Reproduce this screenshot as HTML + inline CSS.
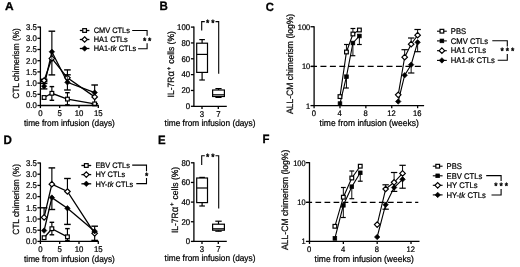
<!DOCTYPE html>
<html><head><meta charset="utf-8"><title>figure</title>
<style>
html,body{margin:0;padding:0;background:#fff;}
svg{display:block;filter:blur(0.4px);}
svg text{font-family:"Liberation Sans",Arial,Helvetica,sans-serif;fill:#000;stroke:#000;stroke-width:0.22px;text-rendering:geometricPrecision;}
</style></head><body>
<svg width="520" height="267" viewBox="0 0 520 267">
<rect width="520" height="267" fill="#fff"/>
<text transform="translate(5.0,10.0) scale(1.05,1)" font-size="11.4" font-weight="bold" style="stroke-width:0.3px">A</text>
<text transform="translate(159.5,9.8) scale(0.95,1)" font-size="12.2" font-weight="bold" style="stroke-width:0.3px">B</text>
<text transform="translate(265.7,10.7) scale(0.95,1)" font-size="11.9" font-weight="bold" style="stroke-width:0.3px">C</text>
<text transform="translate(3.4,143.6) scale(0.95,1)" font-size="12.2" font-weight="bold" style="stroke-width:0.3px">D</text>
<text transform="translate(157.9,144.1) scale(0.95,1)" font-size="12" font-weight="bold" style="stroke-width:0.3px">E</text>
<text transform="translate(262.5,143.0) scale(0.95,1)" font-size="12" font-weight="bold" style="stroke-width:0.3px">F</text>
<line x1="51.87" y1="93.30" x2="51.87" y2="86.60" stroke="#000" stroke-width="1.15" />
<line x1="49.57" y1="86.60" x2="54.17" y2="86.60" stroke="#000" stroke-width="1.40" />
<line x1="51.87" y1="93.30" x2="51.87" y2="100.30" stroke="#000" stroke-width="1.15" />
<line x1="49.57" y1="100.30" x2="54.17" y2="100.30" stroke="#000" stroke-width="1.40" />
<line x1="67.43" y1="99.10" x2="67.43" y2="92.70" stroke="#000" stroke-width="1.15" />
<line x1="65.13" y1="92.70" x2="69.73" y2="92.70" stroke="#000" stroke-width="1.40" />
<line x1="67.43" y1="99.10" x2="67.43" y2="104.80" stroke="#000" stroke-width="1.15" />
<line x1="65.13" y1="104.80" x2="69.73" y2="104.80" stroke="#000" stroke-width="1.40" />
<line x1="44.09" y1="80.50" x2="44.09" y2="79.30" stroke="#000" stroke-width="1.15" />
<line x1="40.79" y1="79.30" x2="47.39" y2="79.30" stroke="#000" stroke-width="1.40" />
<line x1="44.09" y1="80.50" x2="44.09" y2="81.60" stroke="#000" stroke-width="1.15" />
<line x1="40.79" y1="81.60" x2="47.39" y2="81.60" stroke="#000" stroke-width="1.40" />
<line x1="67.43" y1="77.80" x2="67.43" y2="69.90" stroke="#000" stroke-width="1.15" />
<line x1="64.13" y1="69.90" x2="70.73" y2="69.90" stroke="#000" stroke-width="1.40" />
<line x1="94.66" y1="96.90" x2="94.66" y2="103.80" stroke="#000" stroke-width="1.15" />
<line x1="91.36" y1="103.80" x2="97.96" y2="103.80" stroke="#000" stroke-width="1.40" />
<line x1="44.09" y1="86.20" x2="44.09" y2="83.40" stroke="#000" stroke-width="1.15" />
<line x1="40.79" y1="83.40" x2="47.39" y2="83.40" stroke="#000" stroke-width="1.40" />
<line x1="44.09" y1="86.20" x2="44.09" y2="88.90" stroke="#000" stroke-width="1.15" />
<line x1="40.79" y1="88.90" x2="47.39" y2="88.90" stroke="#000" stroke-width="1.40" />
<line x1="51.87" y1="51.80" x2="51.87" y2="31.20" stroke="#000" stroke-width="1.15" />
<line x1="48.57" y1="31.20" x2="55.17" y2="31.20" stroke="#000" stroke-width="1.40" />
<line x1="51.87" y1="51.80" x2="51.87" y2="74.90" stroke="#000" stroke-width="1.15" />
<line x1="48.57" y1="74.90" x2="55.17" y2="74.90" stroke="#000" stroke-width="1.40" />
<line x1="67.43" y1="82.30" x2="67.43" y2="74.80" stroke="#000" stroke-width="1.15" />
<line x1="64.13" y1="74.80" x2="70.73" y2="74.80" stroke="#000" stroke-width="1.40" />
<line x1="67.43" y1="82.30" x2="67.43" y2="90.00" stroke="#000" stroke-width="1.15" />
<line x1="64.13" y1="90.00" x2="70.73" y2="90.00" stroke="#000" stroke-width="1.40" />
<line x1="94.66" y1="92.60" x2="94.66" y2="85.00" stroke="#000" stroke-width="1.15" />
<line x1="91.36" y1="85.00" x2="97.96" y2="85.00" stroke="#000" stroke-width="1.40" />
<polyline fill="none" stroke="#000" stroke-width="1.3" points="44.09,97.50 51.87,93.30 67.43,99.10 94.66,103.90"/>
<polyline fill="none" stroke="#000" stroke-width="1.3" points="44.09,80.50 51.87,58.40 67.43,77.80 94.66,96.90"/>
<polyline fill="none" stroke="#000" stroke-width="1.3" points="44.09,86.20 51.87,51.80 67.43,82.30 94.66,92.60"/>
<rect x="42.24" y="95.65" width="3.7" height="3.7" fill="#fff" stroke="#000" stroke-width="1.2"/>
<rect x="50.02" y="91.45" width="3.7" height="3.7" fill="#fff" stroke="#000" stroke-width="1.2"/>
<rect x="65.58" y="97.25" width="3.7" height="3.7" fill="#fff" stroke="#000" stroke-width="1.2"/>
<rect x="92.81" y="102.05" width="3.7" height="3.7" fill="#fff" stroke="#000" stroke-width="1.2"/>
<polygon points="44.09,77.75 46.84,80.50 44.09,83.25 41.34,80.50" fill="#fff" stroke="#000" stroke-width="1.2"/>
<polygon points="51.87,55.65 54.62,58.40 51.87,61.15 49.12,58.40" fill="#fff" stroke="#000" stroke-width="1.2"/>
<polygon points="67.43,75.05 70.18,77.80 67.43,80.55 64.68,77.80" fill="#fff" stroke="#000" stroke-width="1.2"/>
<polygon points="94.66,94.15 97.41,96.90 94.66,99.65 91.91,96.90" fill="#fff" stroke="#000" stroke-width="1.2"/>
<polygon points="44.09,83.45 46.84,86.20 44.09,88.95 41.34,86.20" fill="#000" stroke="#000" stroke-width="0.6"/>
<polygon points="51.87,49.05 54.62,51.80 51.87,54.55 49.12,51.80" fill="#000" stroke="#000" stroke-width="0.6"/>
<polygon points="67.43,79.55 70.18,82.30 67.43,85.05 64.68,82.30" fill="#000" stroke="#000" stroke-width="0.6"/>
<polygon points="94.66,89.85 97.41,92.60 94.66,95.35 91.91,92.60" fill="#000" stroke="#000" stroke-width="0.6"/>
<line x1="51.87" y1="55.50" x2="51.87" y2="61.50" stroke="#000" stroke-width="0.80" />
<line x1="67.43" y1="75.00" x2="67.43" y2="80.00" stroke="#000" stroke-width="0.70" />
<line x1="40.40" y1="26.60" x2="40.40" y2="106.00" stroke="#000" stroke-width="1.30" />
<line x1="39.90" y1="105.50" x2="98.80" y2="105.50" stroke="#000" stroke-width="1.30" />
<line x1="37.40" y1="105.50" x2="40.40" y2="105.50" stroke="#000" stroke-width="1.30" />
<text transform="translate(36.80,108.30) scale(1,1.07)" font-size="7.8" text-anchor="end" >0.0</text>
<line x1="37.40" y1="94.30" x2="40.40" y2="94.30" stroke="#000" stroke-width="1.30" />
<text transform="translate(36.80,97.10) scale(1,1.07)" font-size="7.8" text-anchor="end" >0.5</text>
<line x1="37.40" y1="83.10" x2="40.40" y2="83.10" stroke="#000" stroke-width="1.30" />
<text transform="translate(36.80,85.90) scale(1,1.07)" font-size="7.8" text-anchor="end" >1.0</text>
<line x1="37.40" y1="71.90" x2="40.40" y2="71.90" stroke="#000" stroke-width="1.30" />
<text transform="translate(36.80,74.70) scale(1,1.07)" font-size="7.8" text-anchor="end" >1.5</text>
<line x1="37.40" y1="60.70" x2="40.40" y2="60.70" stroke="#000" stroke-width="1.30" />
<text transform="translate(36.80,63.50) scale(1,1.07)" font-size="7.8" text-anchor="end" >2.0</text>
<line x1="37.40" y1="49.50" x2="40.40" y2="49.50" stroke="#000" stroke-width="1.30" />
<text transform="translate(36.80,52.30) scale(1,1.07)" font-size="7.8" text-anchor="end" >2.5</text>
<line x1="37.40" y1="38.30" x2="40.40" y2="38.30" stroke="#000" stroke-width="1.30" />
<text transform="translate(36.80,41.10) scale(1,1.07)" font-size="7.8" text-anchor="end" >3.0</text>
<line x1="37.40" y1="27.10" x2="40.40" y2="27.10" stroke="#000" stroke-width="1.30" />
<text transform="translate(36.80,29.90) scale(1,1.07)" font-size="7.8" text-anchor="end" >3.5</text>
<line x1="40.40" y1="105.50" x2="40.40" y2="108.10" stroke="#000" stroke-width="1.30" />
<text transform="translate(40.40,115.80) scale(1,1.07)" font-size="7.8" text-anchor="middle" >0</text>
<line x1="59.70" y1="105.50" x2="59.70" y2="108.10" stroke="#000" stroke-width="1.30" />
<text transform="translate(59.70,115.80) scale(1,1.07)" font-size="7.8" text-anchor="middle" >5</text>
<line x1="79.00" y1="105.50" x2="79.00" y2="108.10" stroke="#000" stroke-width="1.30" />
<text transform="translate(79.00,115.80) scale(1,1.07)" font-size="7.8" text-anchor="middle" >10</text>
<line x1="98.30" y1="105.50" x2="98.30" y2="108.10" stroke="#000" stroke-width="1.30" />
<text transform="translate(98.30,115.80) scale(1,1.07)" font-size="7.8" text-anchor="middle" >15</text>
<text transform="translate(24.00,125.80) scale(1,1.07)" font-size="8.3" text-anchor="start" >time from infusion (days)</text>
<text transform="translate(19.00,63.50) rotate(-90) scale(1,1.07)" font-size="8.3" text-anchor="middle">CTL chimerism (%)</text>
<line x1="79.80" y1="30.50" x2="89.40" y2="30.50" stroke="#000" stroke-width="1.30" />
<rect x="82.75" y="28.65" width="3.7" height="3.7" fill="#fff" stroke="#000" stroke-width="1.2"/>
<text transform="translate(93.70,33.20) scale(1,1.07)" font-size="7.4" text-anchor="start" >CMV CTLs</text>
<line x1="79.80" y1="39.50" x2="89.40" y2="39.50" stroke="#000" stroke-width="1.30" />
<polygon points="84.60,36.75 87.35,39.50 84.60,42.25 81.85,39.50" fill="#fff" stroke="#000" stroke-width="1.2"/>
<text transform="translate(93.70,42.20) scale(1,1.07)" font-size="7.4" text-anchor="start" >HA1 CTLs</text>
<line x1="79.80" y1="48.50" x2="89.40" y2="48.50" stroke="#000" stroke-width="1.30" />
<polygon points="84.60,45.75 87.35,48.50 84.60,51.25 81.85,48.50" fill="#000" stroke="#000" stroke-width="0.6"/>
<text transform="translate(93.70,51.20) scale(1,1.07)" font-size="7.4" text-anchor="start" >HA1-<tspan font-style="italic" letter-spacing="0.15">tk</tspan> CTLs</text>
<polyline fill="none" stroke="#000" stroke-width="1.1" points="132.20,30.50 147.10,30.50 147.10,35.80"/>
<polyline fill="none" stroke="#000" stroke-width="1.1" points="138.10,48.80 147.10,48.80 147.10,43.30"/>
<text transform="translate(144.60,44.39) scale(1,1.07)" font-size="8.5" text-anchor="middle" style="stroke-width:0.4px">*</text>
<text transform="translate(149.60,44.39) scale(1,1.07)" font-size="8.5" text-anchor="middle" style="stroke-width:0.4px">*</text>
<line x1="51.87" y1="228.70" x2="51.87" y2="222.30" stroke="#000" stroke-width="1.15" />
<line x1="49.57" y1="222.30" x2="54.17" y2="222.30" stroke="#000" stroke-width="1.40" />
<line x1="51.87" y1="228.70" x2="51.87" y2="234.80" stroke="#000" stroke-width="1.15" />
<line x1="49.57" y1="234.80" x2="54.17" y2="234.80" stroke="#000" stroke-width="1.40" />
<line x1="67.43" y1="236.80" x2="67.43" y2="228.60" stroke="#000" stroke-width="1.15" />
<line x1="65.13" y1="228.60" x2="69.73" y2="228.60" stroke="#000" stroke-width="1.40" />
<line x1="67.43" y1="236.80" x2="67.43" y2="240.50" stroke="#000" stroke-width="1.15" />
<line x1="65.13" y1="240.50" x2="69.73" y2="240.50" stroke="#000" stroke-width="1.40" />
<line x1="44.09" y1="217.40" x2="44.09" y2="207.80" stroke="#000" stroke-width="1.15" />
<line x1="40.79" y1="207.80" x2="47.39" y2="207.80" stroke="#000" stroke-width="1.40" />
<line x1="51.87" y1="184.20" x2="51.87" y2="167.90" stroke="#000" stroke-width="1.15" />
<line x1="48.57" y1="167.90" x2="55.17" y2="167.90" stroke="#000" stroke-width="1.40" />
<line x1="67.43" y1="191.50" x2="67.43" y2="178.50" stroke="#000" stroke-width="1.15" />
<line x1="64.13" y1="178.50" x2="70.73" y2="178.50" stroke="#000" stroke-width="1.40" />
<line x1="94.66" y1="233.30" x2="94.66" y2="240.40" stroke="#000" stroke-width="1.15" />
<line x1="91.36" y1="240.40" x2="97.96" y2="240.40" stroke="#000" stroke-width="1.40" />
<line x1="51.87" y1="197.60" x2="51.87" y2="209.50" stroke="#000" stroke-width="1.15" />
<line x1="48.57" y1="209.50" x2="55.17" y2="209.50" stroke="#000" stroke-width="1.40" />
<line x1="67.43" y1="208.30" x2="67.43" y2="224.40" stroke="#000" stroke-width="1.15" />
<line x1="64.13" y1="224.40" x2="70.73" y2="224.40" stroke="#000" stroke-width="1.40" />
<line x1="94.66" y1="231.20" x2="94.66" y2="226.20" stroke="#000" stroke-width="1.15" />
<line x1="91.36" y1="226.20" x2="97.96" y2="226.20" stroke="#000" stroke-width="1.40" />
<polyline fill="none" stroke="#000" stroke-width="1.3" points="44.09,237.70 51.87,228.70 67.43,236.80"/>
<polyline fill="none" stroke="#000" stroke-width="1.3" points="44.09,217.40 51.87,184.20 67.43,191.50 94.66,233.30"/>
<polyline fill="none" stroke="#000" stroke-width="1.3" points="44.09,230.60 51.87,197.60 67.43,208.30 94.66,231.20"/>
<rect x="42.24" y="235.85" width="3.7" height="3.7" fill="#fff" stroke="#000" stroke-width="1.2"/>
<rect x="50.02" y="226.85" width="3.7" height="3.7" fill="#fff" stroke="#000" stroke-width="1.2"/>
<rect x="65.58" y="234.95" width="3.7" height="3.7" fill="#fff" stroke="#000" stroke-width="1.2"/>
<polygon points="44.09,214.65 46.84,217.40 44.09,220.15 41.34,217.40" fill="#fff" stroke="#000" stroke-width="1.2"/>
<polygon points="51.87,181.45 54.62,184.20 51.87,186.95 49.12,184.20" fill="#fff" stroke="#000" stroke-width="1.2"/>
<polygon points="67.43,188.75 70.18,191.50 67.43,194.25 64.68,191.50" fill="#fff" stroke="#000" stroke-width="1.2"/>
<polygon points="94.66,230.55 97.41,233.30 94.66,236.05 91.91,233.30" fill="#fff" stroke="#000" stroke-width="1.2"/>
<polygon points="44.09,227.85 46.84,230.60 44.09,233.35 41.34,230.60" fill="#000" stroke="#000" stroke-width="0.6"/>
<polygon points="51.87,194.85 54.62,197.60 51.87,200.35 49.12,197.60" fill="#000" stroke="#000" stroke-width="0.6"/>
<polygon points="67.43,205.55 70.18,208.30 67.43,211.05 64.68,208.30" fill="#000" stroke="#000" stroke-width="0.6"/>
<polygon points="94.66,228.45 97.41,231.20 94.66,233.95 91.91,231.20" fill="#000" stroke="#000" stroke-width="0.6"/>
<line x1="40.40" y1="162.50" x2="40.40" y2="241.90" stroke="#000" stroke-width="1.30" />
<line x1="39.90" y1="241.40" x2="98.80" y2="241.40" stroke="#000" stroke-width="1.30" />
<line x1="37.40" y1="241.40" x2="40.40" y2="241.40" stroke="#000" stroke-width="1.30" />
<text transform="translate(36.80,244.20) scale(1,1.07)" font-size="7.8" text-anchor="end" >0.0</text>
<line x1="37.40" y1="230.20" x2="40.40" y2="230.20" stroke="#000" stroke-width="1.30" />
<text transform="translate(36.80,233.00) scale(1,1.07)" font-size="7.8" text-anchor="end" >0.5</text>
<line x1="37.40" y1="219.00" x2="40.40" y2="219.00" stroke="#000" stroke-width="1.30" />
<text transform="translate(36.80,221.80) scale(1,1.07)" font-size="7.8" text-anchor="end" >1.0</text>
<line x1="37.40" y1="207.80" x2="40.40" y2="207.80" stroke="#000" stroke-width="1.30" />
<text transform="translate(36.80,210.60) scale(1,1.07)" font-size="7.8" text-anchor="end" >1.5</text>
<line x1="37.40" y1="196.60" x2="40.40" y2="196.60" stroke="#000" stroke-width="1.30" />
<text transform="translate(36.80,199.40) scale(1,1.07)" font-size="7.8" text-anchor="end" >2.0</text>
<line x1="37.40" y1="185.40" x2="40.40" y2="185.40" stroke="#000" stroke-width="1.30" />
<text transform="translate(36.80,188.20) scale(1,1.07)" font-size="7.8" text-anchor="end" >2.5</text>
<line x1="37.40" y1="174.20" x2="40.40" y2="174.20" stroke="#000" stroke-width="1.30" />
<text transform="translate(36.80,177.00) scale(1,1.07)" font-size="7.8" text-anchor="end" >3.0</text>
<line x1="37.40" y1="163.00" x2="40.40" y2="163.00" stroke="#000" stroke-width="1.30" />
<text transform="translate(36.80,165.80) scale(1,1.07)" font-size="7.8" text-anchor="end" >3.5</text>
<line x1="40.40" y1="241.40" x2="40.40" y2="244.00" stroke="#000" stroke-width="1.30" />
<text transform="translate(40.40,251.70) scale(1,1.07)" font-size="7.8" text-anchor="middle" >0</text>
<line x1="59.70" y1="241.40" x2="59.70" y2="244.00" stroke="#000" stroke-width="1.30" />
<text transform="translate(59.70,251.70) scale(1,1.07)" font-size="7.8" text-anchor="middle" >5</text>
<line x1="79.00" y1="241.40" x2="79.00" y2="244.00" stroke="#000" stroke-width="1.30" />
<text transform="translate(79.00,251.70) scale(1,1.07)" font-size="7.8" text-anchor="middle" >10</text>
<line x1="98.30" y1="241.40" x2="98.30" y2="244.00" stroke="#000" stroke-width="1.30" />
<text transform="translate(98.30,251.70) scale(1,1.07)" font-size="7.8" text-anchor="middle" >15</text>
<text transform="translate(24.00,261.70) scale(1,1.07)" font-size="8.3" text-anchor="start" >time from infusion (days)</text>
<text transform="translate(19.00,199.40) rotate(-90) scale(1,1.07)" font-size="8.3" text-anchor="middle">CTL chimerism (%)</text>
<line x1="81.40" y1="165.50" x2="91.20" y2="165.50" stroke="#000" stroke-width="1.30" />
<rect x="84.45" y="163.65" width="3.7" height="3.7" fill="#fff" stroke="#000" stroke-width="1.2"/>
<text transform="translate(95.40,168.20) scale(1,1.07)" font-size="7.4" text-anchor="start" >EBV CTLs</text>
<line x1="81.40" y1="174.60" x2="91.20" y2="174.60" stroke="#000" stroke-width="1.30" />
<polygon points="86.30,171.85 89.05,174.60 86.30,177.35 83.55,174.60" fill="#fff" stroke="#000" stroke-width="1.2"/>
<text transform="translate(95.40,177.30) scale(1,1.07)" font-size="7.4" text-anchor="start" >HY CTLs</text>
<line x1="81.40" y1="183.80" x2="91.20" y2="183.80" stroke="#000" stroke-width="1.30" />
<polygon points="86.30,181.05 89.05,183.80 86.30,186.55 83.55,183.80" fill="#000" stroke="#000" stroke-width="0.6"/>
<text transform="translate(95.40,186.50) scale(1,1.07)" font-size="7.4" text-anchor="start" >HY-<tspan font-style="italic" letter-spacing="0.15">tk</tspan> CTLs</text>
<polyline fill="none" stroke="#000" stroke-width="1.1" points="132.20,165.10 146.50,165.10 146.50,171.20"/>
<polyline fill="none" stroke="#000" stroke-width="1.1" points="136.30,183.60 146.50,183.60 146.50,177.90"/>
<text transform="translate(146.60,178.89) scale(1,1.07)" font-size="8.5" text-anchor="middle" style="stroke-width:0.4px">*</text>
<line x1="193.90" y1="26.60" x2="193.90" y2="106.80" stroke="#000" stroke-width="1.30" />
<line x1="193.40" y1="106.30" x2="226.80" y2="106.30" stroke="#000" stroke-width="1.30" />
<line x1="190.90" y1="106.30" x2="193.90" y2="106.30" stroke="#000" stroke-width="1.30" />
<text transform="translate(190.10,109.10) scale(1,1.07)" font-size="7.8" text-anchor="end" >0</text>
<line x1="190.90" y1="90.46" x2="193.90" y2="90.46" stroke="#000" stroke-width="1.30" />
<text transform="translate(190.10,93.26) scale(1,1.07)" font-size="7.8" text-anchor="end" >20</text>
<line x1="190.90" y1="74.62" x2="193.90" y2="74.62" stroke="#000" stroke-width="1.30" />
<text transform="translate(190.10,77.42) scale(1,1.07)" font-size="7.8" text-anchor="end" >40</text>
<line x1="190.90" y1="58.78" x2="193.90" y2="58.78" stroke="#000" stroke-width="1.30" />
<text transform="translate(190.10,61.58) scale(1,1.07)" font-size="7.8" text-anchor="end" >60</text>
<line x1="190.90" y1="42.94" x2="193.90" y2="42.94" stroke="#000" stroke-width="1.30" />
<text transform="translate(190.10,45.74) scale(1,1.07)" font-size="7.8" text-anchor="end" >80</text>
<line x1="190.90" y1="27.10" x2="193.90" y2="27.10" stroke="#000" stroke-width="1.30" />
<text transform="translate(190.10,29.90) scale(1,1.07)" font-size="7.8" text-anchor="end" >100</text>
<line x1="202.00" y1="106.30" x2="202.00" y2="108.90" stroke="#000" stroke-width="1.30" />
<text transform="translate(202.00,116.60) scale(1,1.07)" font-size="7.8" text-anchor="middle" >3</text>
<line x1="218.30" y1="106.30" x2="218.30" y2="108.90" stroke="#000" stroke-width="1.30" />
<text transform="translate(218.30,116.60) scale(1,1.07)" font-size="7.8" text-anchor="middle" >7</text>
<text transform="translate(164.60,126.20) scale(1,1.07)" font-size="8.3" text-anchor="start" >time from infusion (days)</text>
<text transform="translate(174.20,64.30) rotate(-90) scale(1,1.07)" font-size="8.5" text-anchor="middle">IL-7R<tspan font-size="9.6">α</tspan><tspan font-size="6" dy="-3.4" dx="0.8">+</tspan><tspan dy="3.4" dx="0.6"> cells (%)</tspan></text>
<line x1="202.10" y1="39.60" x2="202.10" y2="43.20" stroke="#000" stroke-width="1.20" />
<line x1="202.10" y1="72.40" x2="202.10" y2="80.00" stroke="#000" stroke-width="1.20" />
<line x1="199.30" y1="39.60" x2="204.90" y2="39.60" stroke="#000" stroke-width="1.20" />
<line x1="199.30" y1="80.00" x2="204.90" y2="80.00" stroke="#000" stroke-width="1.20" />
<rect x="196.70" y="43.20" width="10.80" height="29.20" fill="#fff" stroke="#000" stroke-width="1.2"/>
<line x1="196.70" y1="54.40" x2="207.50" y2="54.40" stroke="#000" stroke-width="1.20" />
<line x1="218.50" y1="88.60" x2="218.50" y2="90.00" stroke="#000" stroke-width="1.20" />
<line x1="218.50" y1="96.50" x2="218.50" y2="97.40" stroke="#000" stroke-width="1.20" />
<line x1="215.40" y1="88.60" x2="221.60" y2="88.60" stroke="#000" stroke-width="1.20" />
<line x1="215.40" y1="97.40" x2="221.60" y2="97.40" stroke="#000" stroke-width="1.20" />
<rect x="212.60" y="90.00" width="11.80" height="6.50" fill="#fff" stroke="#000" stroke-width="1.2"/>
<line x1="212.60" y1="94.80" x2="224.40" y2="94.80" stroke="#000" stroke-width="1.20" />
<polyline fill="none" stroke="#000" stroke-width="1.1" points="201.70,30.40 201.70,21.60 204.80,21.60"/>
<polyline fill="none" stroke="#000" stroke-width="1.1" points="215.50,21.60 218.70,21.60 218.70,73.80"/>
<text transform="translate(207.60,26.29) scale(1,1.07)" font-size="8.5" text-anchor="middle" style="stroke-width:0.4px">*</text>
<text transform="translate(212.90,26.29) scale(1,1.07)" font-size="8.5" text-anchor="middle" style="stroke-width:0.4px">*</text>
<line x1="193.90" y1="162.30" x2="193.90" y2="241.90" stroke="#000" stroke-width="1.30" />
<line x1="193.40" y1="241.40" x2="226.80" y2="241.40" stroke="#000" stroke-width="1.30" />
<line x1="190.90" y1="241.40" x2="193.90" y2="241.40" stroke="#000" stroke-width="1.30" />
<text transform="translate(190.10,244.20) scale(1,1.07)" font-size="7.8" text-anchor="end" >0</text>
<line x1="190.90" y1="221.75" x2="193.90" y2="221.75" stroke="#000" stroke-width="1.30" />
<text transform="translate(190.10,224.55) scale(1,1.07)" font-size="7.8" text-anchor="end" >20</text>
<line x1="190.90" y1="202.10" x2="193.90" y2="202.10" stroke="#000" stroke-width="1.30" />
<text transform="translate(190.10,204.90) scale(1,1.07)" font-size="7.8" text-anchor="end" >40</text>
<line x1="190.90" y1="182.45" x2="193.90" y2="182.45" stroke="#000" stroke-width="1.30" />
<text transform="translate(190.10,185.25) scale(1,1.07)" font-size="7.8" text-anchor="end" >60</text>
<line x1="190.90" y1="162.80" x2="193.90" y2="162.80" stroke="#000" stroke-width="1.30" />
<text transform="translate(190.10,165.60) scale(1,1.07)" font-size="7.8" text-anchor="end" >80</text>
<line x1="202.00" y1="241.40" x2="202.00" y2="244.00" stroke="#000" stroke-width="1.30" />
<text transform="translate(202.00,251.70) scale(1,1.07)" font-size="7.8" text-anchor="middle" >3</text>
<line x1="218.30" y1="241.40" x2="218.30" y2="244.00" stroke="#000" stroke-width="1.30" />
<text transform="translate(218.30,251.70) scale(1,1.07)" font-size="7.8" text-anchor="middle" >7</text>
<text transform="translate(164.60,261.30) scale(1,1.07)" font-size="8.3" text-anchor="start" >time from infusion (days)</text>
<text transform="translate(177.70,200.00) rotate(-90) scale(1,1.07)" font-size="8.5" text-anchor="middle">IL-7R<tspan font-size="9.6">α</tspan><tspan font-size="6" dy="-3.4" dx="0.8">+</tspan><tspan dy="3.4" dx="0.6"> cells (%)</tspan></text>
<line x1="202.10" y1="177.40" x2="202.10" y2="178.00" stroke="#000" stroke-width="1.20" />
<line x1="202.10" y1="202.60" x2="202.10" y2="206.00" stroke="#000" stroke-width="1.20" />
<line x1="199.30" y1="177.40" x2="204.90" y2="177.40" stroke="#000" stroke-width="1.20" />
<line x1="199.30" y1="206.00" x2="204.90" y2="206.00" stroke="#000" stroke-width="1.20" />
<rect x="196.70" y="178.00" width="10.80" height="24.60" fill="#fff" stroke="#000" stroke-width="1.2"/>
<line x1="196.70" y1="188.00" x2="207.50" y2="188.00" stroke="#000" stroke-width="1.20" />
<line x1="218.50" y1="221.20" x2="218.50" y2="224.20" stroke="#000" stroke-width="1.20" />
<line x1="218.50" y1="230.20" x2="218.50" y2="231.20" stroke="#000" stroke-width="1.20" />
<line x1="215.30" y1="221.20" x2="221.70" y2="221.20" stroke="#000" stroke-width="1.20" />
<line x1="215.30" y1="231.20" x2="221.70" y2="231.20" stroke="#000" stroke-width="1.20" />
<rect x="212.60" y="224.20" width="11.80" height="6.00" fill="#fff" stroke="#000" stroke-width="1.2"/>
<line x1="212.60" y1="228.80" x2="224.40" y2="228.80" stroke="#000" stroke-width="1.20" />
<polyline fill="none" stroke="#000" stroke-width="1.1" points="201.70,164.90 201.70,155.70 204.80,155.70"/>
<polyline fill="none" stroke="#000" stroke-width="1.1" points="215.50,155.70 218.70,155.70 218.70,208.60"/>
<text transform="translate(207.60,160.39) scale(1,1.07)" font-size="8.5" text-anchor="middle" style="stroke-width:0.4px">*</text>
<text transform="translate(212.90,160.39) scale(1,1.07)" font-size="8.5" text-anchor="middle" style="stroke-width:0.4px">*</text>
<line x1="314.10" y1="26.25" x2="314.10" y2="106.10" stroke="#000" stroke-width="1.30" />
<line x1="313.60" y1="105.60" x2="424.10" y2="105.60" stroke="#000" stroke-width="1.30" />
<line x1="310.50" y1="105.60" x2="314.10" y2="105.60" stroke="#000" stroke-width="1.30" />
<text transform="translate(310.20,108.60) scale(1,1.07)" font-size="7.45" text-anchor="end" >1</text>
<line x1="310.50" y1="66.45" x2="314.10" y2="66.45" stroke="#000" stroke-width="1.30" />
<text transform="translate(310.20,69.45) scale(1,1.07)" font-size="7.45" text-anchor="end" >10</text>
<line x1="310.50" y1="26.75" x2="314.10" y2="26.75" stroke="#000" stroke-width="1.30" />
<text transform="translate(310.20,29.75) scale(1,1.07)" font-size="7.45" text-anchor="end" >100</text>
<line x1="314.10" y1="105.60" x2="314.10" y2="108.20" stroke="#000" stroke-width="1.30" />
<text transform="translate(313.80,116.00) scale(1,1.07)" font-size="7.6" text-anchor="middle" >0</text>
<line x1="339.98" y1="105.60" x2="339.98" y2="108.20" stroke="#000" stroke-width="1.30" />
<text transform="translate(339.68,116.00) scale(1,1.07)" font-size="7.6" text-anchor="middle" >4</text>
<line x1="365.86" y1="105.60" x2="365.86" y2="108.20" stroke="#000" stroke-width="1.30" />
<text transform="translate(365.56,116.00) scale(1,1.07)" font-size="7.6" text-anchor="middle" >8</text>
<line x1="391.74" y1="105.60" x2="391.74" y2="108.20" stroke="#000" stroke-width="1.30" />
<text transform="translate(391.44,116.00) scale(1,1.07)" font-size="7.6" text-anchor="middle" >12</text>
<line x1="417.62" y1="105.60" x2="417.62" y2="108.20" stroke="#000" stroke-width="1.30" />
<text transform="translate(417.32,116.00) scale(1,1.07)" font-size="7.6" text-anchor="middle" >16</text>
<line x1="311.00" y1="66.45" x2="421.30" y2="66.45" stroke="#000" stroke-width="1.30" stroke-dasharray="6.0 3.44"/>
<text transform="translate(319.60,125.70) scale(1,1.07)" font-size="8.5" text-anchor="start" >time from infusion (weeks)</text>
<text transform="translate(292.80,63.90) rotate(-90) scale(1,1.07)" font-size="8.6" text-anchor="middle">ALL-CM chimerism (log%)</text>
<line x1="346.45" y1="76.70" x2="346.45" y2="88.00" stroke="#000" stroke-width="0.95" />
<line x1="344.05" y1="88.00" x2="348.85" y2="88.00" stroke="#000" stroke-width="1.20" />
<line x1="352.92" y1="43.00" x2="352.92" y2="55.70" stroke="#000" stroke-width="0.95" />
<line x1="350.52" y1="55.70" x2="355.32" y2="55.70" stroke="#000" stroke-width="1.20" />
<line x1="359.39" y1="36.00" x2="359.39" y2="44.50" stroke="#000" stroke-width="0.95" />
<line x1="356.99" y1="44.50" x2="361.79" y2="44.50" stroke="#000" stroke-width="1.20" />
<polyline fill="none" stroke="#000" stroke-width="1.1" points="339.98,103.60 346.45,76.70 352.92,43.00 359.39,36.00"/>
<rect x="338.13" y="101.75" width="3.7" height="3.7" fill="#000" stroke="#000" stroke-width="0.7"/>
<rect x="344.60" y="74.85" width="3.7" height="3.7" fill="#000" stroke="#000" stroke-width="0.7"/>
<rect x="351.07" y="41.15" width="3.7" height="3.7" fill="#000" stroke="#000" stroke-width="0.7"/>
<rect x="357.54" y="34.15" width="3.7" height="3.7" fill="#000" stroke="#000" stroke-width="0.7"/>
<line x1="346.45" y1="52.00" x2="346.45" y2="44.50" stroke="#000" stroke-width="0.95" />
<line x1="344.05" y1="44.50" x2="348.85" y2="44.50" stroke="#000" stroke-width="1.20" />
<line x1="352.92" y1="34.00" x2="352.92" y2="28.50" stroke="#000" stroke-width="0.95" />
<line x1="350.52" y1="28.50" x2="355.32" y2="28.50" stroke="#000" stroke-width="1.20" />
<polyline fill="none" stroke="#000" stroke-width="1.1" points="339.98,96.60 346.45,52.00 352.92,34.00 359.39,30.00"/>
<rect x="338.13" y="94.75" width="3.7" height="3.7" fill="#fff" stroke="#000" stroke-width="1.2"/>
<rect x="344.60" y="50.15" width="3.7" height="3.7" fill="#fff" stroke="#000" stroke-width="1.2"/>
<rect x="351.07" y="32.15" width="3.7" height="3.7" fill="#fff" stroke="#000" stroke-width="1.2"/>
<rect x="357.54" y="28.15" width="3.7" height="3.7" fill="#fff" stroke="#000" stroke-width="1.2"/>
<line x1="411.15" y1="64.70" x2="411.15" y2="73.00" stroke="#000" stroke-width="0.95" />
<line x1="407.95" y1="73.00" x2="414.35" y2="73.00" stroke="#000" stroke-width="1.20" />
<line x1="417.62" y1="42.30" x2="417.62" y2="51.70" stroke="#000" stroke-width="0.95" />
<line x1="414.42" y1="51.70" x2="420.82" y2="51.70" stroke="#000" stroke-width="1.20" />
<polyline fill="none" stroke="#000" stroke-width="1.1" points="398.21,101.50 404.68,75.20 411.15,64.70 417.62,42.30"/>
<polygon points="398.21,98.75 400.96,101.50 398.21,104.25 395.46,101.50" fill="#000" stroke="#000" stroke-width="0.6"/>
<polygon points="404.68,72.45 407.43,75.20 404.68,77.95 401.93,75.20" fill="#000" stroke="#000" stroke-width="0.6"/>
<polygon points="411.15,61.95 413.90,64.70 411.15,67.45 408.40,64.70" fill="#000" stroke="#000" stroke-width="0.6"/>
<polygon points="417.62,39.55 420.37,42.30 417.62,45.05 414.87,42.30" fill="#000" stroke="#000" stroke-width="0.6"/>
<line x1="404.68" y1="57.20" x2="404.68" y2="49.70" stroke="#000" stroke-width="0.95" />
<line x1="401.48" y1="49.70" x2="407.88" y2="49.70" stroke="#000" stroke-width="1.20" />
<line x1="411.15" y1="44.20" x2="411.15" y2="38.00" stroke="#000" stroke-width="0.95" />
<line x1="407.95" y1="38.00" x2="414.35" y2="38.00" stroke="#000" stroke-width="1.20" />
<line x1="417.62" y1="35.20" x2="417.62" y2="29.50" stroke="#000" stroke-width="0.95" />
<line x1="414.42" y1="29.50" x2="420.82" y2="29.50" stroke="#000" stroke-width="1.20" />
<polyline fill="none" stroke="#000" stroke-width="1.1" points="398.21,94.80 404.68,57.20 411.15,44.20 417.62,35.20"/>
<polygon points="398.21,92.05 400.96,94.80 398.21,97.55 395.46,94.80" fill="#fff" stroke="#000" stroke-width="1.2"/>
<polygon points="404.68,54.45 407.43,57.20 404.68,59.95 401.93,57.20" fill="#fff" stroke="#000" stroke-width="1.2"/>
<polygon points="411.15,41.45 413.90,44.20 411.15,46.95 408.40,44.20" fill="#fff" stroke="#000" stroke-width="1.2"/>
<polygon points="417.62,32.45 420.37,35.20 417.62,37.95 414.87,35.20" fill="#fff" stroke="#000" stroke-width="1.2"/>
<line x1="437.00" y1="31.20" x2="446.80" y2="31.20" stroke="#000" stroke-width="1.10" />
<rect x="440.05" y="29.35" width="3.7" height="3.7" fill="#fff" stroke="#000" stroke-width="1.2"/>
<text transform="translate(450.80,33.90) scale(1,1.07)" font-size="7.65" text-anchor="start" >PBS</text>
<line x1="437.00" y1="40.90" x2="446.80" y2="40.90" stroke="#000" stroke-width="1.10" />
<rect x="440.05" y="39.05" width="3.7" height="3.7" fill="#000" stroke="#000" stroke-width="0.7"/>
<text transform="translate(450.80,43.60) scale(1,1.07)" font-size="7.65" text-anchor="start" >CMV CTLs</text>
<line x1="437.00" y1="50.70" x2="446.80" y2="50.70" stroke="#000" stroke-width="1.10" />
<polygon points="441.90,47.95 444.65,50.70 441.90,53.45 439.15,50.70" fill="#fff" stroke="#000" stroke-width="1.2"/>
<text transform="translate(450.80,53.40) scale(1,1.07)" font-size="7.65" text-anchor="start" >HA1 CTLs</text>
<line x1="437.00" y1="60.40" x2="446.80" y2="60.40" stroke="#000" stroke-width="1.10" />
<polygon points="441.90,57.65 444.65,60.40 441.90,63.15 439.15,60.40" fill="#000" stroke="#000" stroke-width="0.6"/>
<text transform="translate(450.80,63.10) scale(1,1.07)" font-size="7.65" text-anchor="start" >HA1-<tspan font-style="italic" letter-spacing="0.15">tk</tspan> CTLs</text>
<polyline fill="none" stroke="#000" stroke-width="1.1" points="492.30,40.70 507.30,40.70 507.30,46.40"/>
<polyline fill="none" stroke="#000" stroke-width="1.1" points="497.70,60.20 507.30,60.20 507.30,54.00"/>
<text transform="translate(502.20,54.09) scale(1,1.07)" font-size="8.5" text-anchor="middle" style="stroke-width:0.4px">*</text>
<text transform="translate(507.40,54.09) scale(1,1.07)" font-size="8.5" text-anchor="middle" style="stroke-width:0.4px">*</text>
<text transform="translate(512.60,54.09) scale(1,1.07)" font-size="8.5" text-anchor="middle" style="stroke-width:0.4px">*</text>
<line x1="309.50" y1="162.15" x2="309.50" y2="241.90" stroke="#000" stroke-width="1.30" />
<line x1="309.00" y1="241.40" x2="419.50" y2="241.40" stroke="#000" stroke-width="1.30" />
<line x1="305.90" y1="241.40" x2="309.50" y2="241.40" stroke="#000" stroke-width="1.30" />
<text transform="translate(305.60,244.40) scale(1,1.07)" font-size="7.45" text-anchor="end" >1</text>
<line x1="305.90" y1="202.35" x2="309.50" y2="202.35" stroke="#000" stroke-width="1.30" />
<text transform="translate(305.60,205.35) scale(1,1.07)" font-size="7.45" text-anchor="end" >10</text>
<line x1="305.90" y1="162.65" x2="309.50" y2="162.65" stroke="#000" stroke-width="1.30" />
<text transform="translate(305.60,165.65) scale(1,1.07)" font-size="7.45" text-anchor="end" >100</text>
<line x1="309.50" y1="241.40" x2="309.50" y2="244.00" stroke="#000" stroke-width="1.30" />
<text transform="translate(309.20,251.80) scale(1,1.07)" font-size="7.6" text-anchor="middle" >0</text>
<line x1="343.34" y1="241.40" x2="343.34" y2="244.00" stroke="#000" stroke-width="1.30" />
<text transform="translate(343.04,251.80) scale(1,1.07)" font-size="7.6" text-anchor="middle" >4</text>
<line x1="377.18" y1="241.40" x2="377.18" y2="244.00" stroke="#000" stroke-width="1.30" />
<text transform="translate(376.88,251.80) scale(1,1.07)" font-size="7.6" text-anchor="middle" >8</text>
<line x1="411.02" y1="241.40" x2="411.02" y2="244.00" stroke="#000" stroke-width="1.30" />
<text transform="translate(410.72,251.80) scale(1,1.07)" font-size="7.6" text-anchor="middle" >12</text>
<line x1="306.40" y1="202.35" x2="418.30" y2="202.35" stroke="#000" stroke-width="1.30" stroke-dasharray="5.7 3.36"/>
<text transform="translate(314.60,261.50) scale(1,1.07)" font-size="8.5" text-anchor="start" >time from infusion (weeks)</text>
<text transform="translate(287.80,199.80) rotate(-90) scale(1,1.07)" font-size="8.6" text-anchor="middle">ALL-CM chimerism (log%)</text>
<line x1="343.34" y1="205.30" x2="343.34" y2="217.50" stroke="#000" stroke-width="0.95" />
<line x1="340.94" y1="217.50" x2="345.74" y2="217.50" stroke="#000" stroke-width="1.20" />
<line x1="351.80" y1="186.70" x2="351.80" y2="198.70" stroke="#000" stroke-width="0.95" />
<line x1="349.40" y1="198.70" x2="354.20" y2="198.70" stroke="#000" stroke-width="1.20" />
<line x1="360.26" y1="172.80" x2="360.26" y2="181.20" stroke="#000" stroke-width="0.95" />
<line x1="357.86" y1="181.20" x2="362.66" y2="181.20" stroke="#000" stroke-width="1.20" />
<polyline fill="none" stroke="#000" stroke-width="1.1" points="334.88,238.40 343.34,205.30 351.80,186.70 360.26,172.80"/>
<rect x="333.03" y="236.55" width="3.7" height="3.7" fill="#000" stroke="#000" stroke-width="0.7"/>
<rect x="341.49" y="203.45" width="3.7" height="3.7" fill="#000" stroke="#000" stroke-width="0.7"/>
<rect x="349.95" y="184.85" width="3.7" height="3.7" fill="#000" stroke="#000" stroke-width="0.7"/>
<rect x="358.41" y="170.95" width="3.7" height="3.7" fill="#000" stroke="#000" stroke-width="0.7"/>
<line x1="343.34" y1="197.20" x2="343.34" y2="187.50" stroke="#000" stroke-width="0.95" />
<line x1="340.94" y1="187.50" x2="345.74" y2="187.50" stroke="#000" stroke-width="1.20" />
<line x1="351.80" y1="178.00" x2="351.80" y2="171.00" stroke="#000" stroke-width="0.95" />
<line x1="349.40" y1="171.00" x2="354.20" y2="171.00" stroke="#000" stroke-width="1.20" />
<polyline fill="none" stroke="#000" stroke-width="1.1" points="334.88,226.30 343.34,197.20 351.80,178.00 360.26,166.20"/>
<rect x="333.03" y="224.45" width="3.7" height="3.7" fill="#fff" stroke="#000" stroke-width="1.2"/>
<rect x="341.49" y="195.35" width="3.7" height="3.7" fill="#fff" stroke="#000" stroke-width="1.2"/>
<rect x="349.95" y="176.15" width="3.7" height="3.7" fill="#fff" stroke="#000" stroke-width="1.2"/>
<rect x="358.41" y="164.35" width="3.7" height="3.7" fill="#fff" stroke="#000" stroke-width="1.2"/>
<line x1="385.64" y1="204.70" x2="385.64" y2="209.20" stroke="#000" stroke-width="0.95" />
<line x1="382.44" y1="209.20" x2="388.84" y2="209.20" stroke="#000" stroke-width="1.20" />
<line x1="394.10" y1="187.50" x2="394.10" y2="191.40" stroke="#000" stroke-width="0.95" />
<line x1="390.90" y1="191.40" x2="397.30" y2="191.40" stroke="#000" stroke-width="1.20" />
<line x1="402.56" y1="179.30" x2="402.56" y2="188.20" stroke="#000" stroke-width="0.95" />
<line x1="399.36" y1="188.20" x2="405.76" y2="188.20" stroke="#000" stroke-width="1.20" />
<polyline fill="none" stroke="#000" stroke-width="1.1" points="377.18,237.00 385.64,204.70 394.10,187.50 402.56,179.30"/>
<polygon points="377.18,234.25 379.93,237.00 377.18,239.75 374.43,237.00" fill="#000" stroke="#000" stroke-width="0.6"/>
<polygon points="385.64,201.95 388.39,204.70 385.64,207.45 382.89,204.70" fill="#000" stroke="#000" stroke-width="0.6"/>
<polygon points="394.10,184.75 396.85,187.50 394.10,190.25 391.35,187.50" fill="#000" stroke="#000" stroke-width="0.6"/>
<polygon points="402.56,176.55 405.31,179.30 402.56,182.05 399.81,179.30" fill="#000" stroke="#000" stroke-width="0.6"/>
<line x1="385.64" y1="189.00" x2="385.64" y2="184.80" stroke="#000" stroke-width="0.95" />
<line x1="382.44" y1="184.80" x2="388.84" y2="184.80" stroke="#000" stroke-width="1.20" />
<line x1="394.10" y1="182.30" x2="394.10" y2="172.50" stroke="#000" stroke-width="0.95" />
<line x1="390.90" y1="172.50" x2="397.30" y2="172.50" stroke="#000" stroke-width="1.20" />
<line x1="402.56" y1="173.40" x2="402.56" y2="165.30" stroke="#000" stroke-width="0.95" />
<line x1="399.36" y1="165.30" x2="405.76" y2="165.30" stroke="#000" stroke-width="1.20" />
<polyline fill="none" stroke="#000" stroke-width="1.1" points="377.18,224.60 385.64,189.00 394.10,182.30 402.56,173.40"/>
<polygon points="377.18,221.85 379.93,224.60 377.18,227.35 374.43,224.60" fill="#fff" stroke="#000" stroke-width="1.2"/>
<polygon points="385.64,186.25 388.39,189.00 385.64,191.75 382.89,189.00" fill="#fff" stroke="#000" stroke-width="1.2"/>
<polygon points="394.10,179.55 396.85,182.30 394.10,185.05 391.35,182.30" fill="#fff" stroke="#000" stroke-width="1.2"/>
<polygon points="402.56,170.65 405.31,173.40 402.56,176.15 399.81,173.40" fill="#fff" stroke="#000" stroke-width="1.2"/>
<line x1="432.80" y1="166.20" x2="442.60" y2="166.20" stroke="#000" stroke-width="1.10" />
<rect x="435.85" y="164.35" width="3.7" height="3.7" fill="#fff" stroke="#000" stroke-width="1.2"/>
<text transform="translate(446.60,168.90) scale(1,1.07)" font-size="7.65" text-anchor="start" >PBS</text>
<line x1="432.80" y1="175.80" x2="442.60" y2="175.80" stroke="#000" stroke-width="1.10" />
<rect x="435.85" y="173.95" width="3.7" height="3.7" fill="#000" stroke="#000" stroke-width="0.7"/>
<text transform="translate(446.60,178.50) scale(1,1.07)" font-size="7.65" text-anchor="start" >EBV CTLs</text>
<line x1="432.80" y1="185.30" x2="442.60" y2="185.30" stroke="#000" stroke-width="1.10" />
<polygon points="437.70,182.55 440.45,185.30 437.70,188.05 434.95,185.30" fill="#fff" stroke="#000" stroke-width="1.2"/>
<text transform="translate(446.60,188.00) scale(1,1.07)" font-size="7.65" text-anchor="start" >HY CTLs</text>
<line x1="432.80" y1="194.90" x2="442.60" y2="194.90" stroke="#000" stroke-width="1.10" />
<polygon points="437.70,192.15 440.45,194.90 437.70,197.65 434.95,194.90" fill="#000" stroke="#000" stroke-width="0.6"/>
<text transform="translate(446.60,197.60) scale(1,1.07)" font-size="7.65" text-anchor="start" >HY-<tspan font-style="italic" letter-spacing="0.15">tk</tspan> CTLs</text>
<polyline fill="none" stroke="#000" stroke-width="1.1" points="486.20,175.60 501.10,175.60 501.10,181.10"/>
<polyline fill="none" stroke="#000" stroke-width="1.1" points="491.50,195.00 501.10,195.00 501.10,189.00"/>
<text transform="translate(496.00,189.09) scale(1,1.07)" font-size="8.5" text-anchor="middle" style="stroke-width:0.4px">*</text>
<text transform="translate(501.20,189.09) scale(1,1.07)" font-size="8.5" text-anchor="middle" style="stroke-width:0.4px">*</text>
<text transform="translate(506.30,189.09) scale(1,1.07)" font-size="8.5" text-anchor="middle" style="stroke-width:0.4px">*</text>
</svg>
</body></html>
